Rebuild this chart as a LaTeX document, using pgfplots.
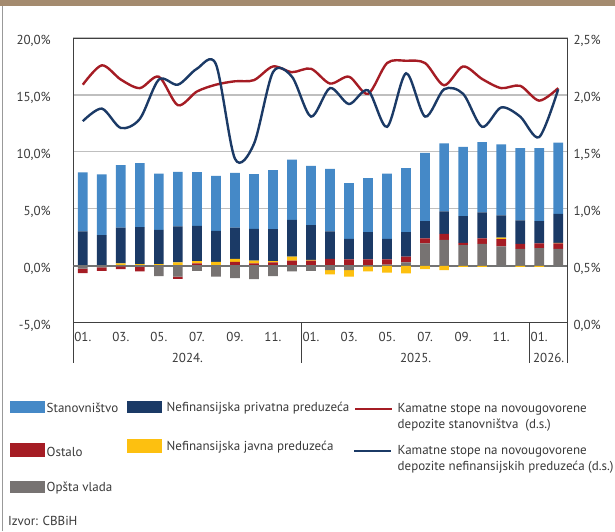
\documentclass[border=0pt]{standalone}
\usepackage{pgfplots}
\pgfplotsset{compat=1.18}
\usepackage{pgfplotstable}
\usepackage{fontspec}
\setmainfont{PT Sans}
\definecolor{cLB}{HTML}{4589C7}
\definecolor{cDB}{HTML}{1B3A66}
\definecolor{cRed}{HTML}{A51C24}
\definecolor{cYel}{HTML}{FDC010}
\definecolor{cGray}{HTML}{777372}
\definecolor{cTxt}{HTML}{3A3A3A}
\definecolor{cGrid}{HTML}{BFBFBF}
\definecolor{cBand}{HTML}{A48B6F}
\definecolor{cFrame}{HTML}{404040}

\pgfplotstableread{
x gray red yellow dblue lblue rs rn
0 -0.25 -0.40 0.00 3.01 5.18 2.09 1.77
1 -0.15 -0.30 0.05 2.64 5.33 2.26 1.88
2 -0.05 -0.25 0.20 3.14 5.49 2.135 1.71
3 -0.10 -0.40 0.15 3.24 5.62 2.06 1.79
4 -0.90 0.00 0.15 3.01 4.94 2.16 2.135
5 -0.95 -0.20 0.30 3.15 4.80 1.91 2.09
6 -0.45 0.20 0.20 3.11 4.71 2.03 2.23
7 -0.95 0.05 0.30 2.72 4.83 2.09 2.27
8 -1.08 0.35 0.25 2.74 4.82 2.12 1.44
9 -1.17 0.20 0.25 2.80 4.79 2.13 1.57
10 -0.90 0.30 0.10 2.82 5.17 2.25 2.20
11 -0.50 0.45 0.35 3.24 5.29 2.20 2.16
12 -0.45 0.45 0.06 3.06 5.20 2.23 1.81
13 -0.38 0.60 -0.38 2.41 5.50 2.10 2.06
14 -0.38 0.55 -0.58 1.82 4.88 2.16 1.92
15 -0.05 0.55 -0.45 2.41 4.73 2.01 2.04
16 0.10 0.45 -0.60 1.82 5.73 2.28 1.72
17 0.30 0.50 -0.67 2.16 5.61 2.30 2.19
18 1.96 0.44 -0.30 1.52 5.99 2.28 1.81
19 2.28 0.53 -0.38 1.96 5.97 2.085 2.05
20 1.81 0.20 -0.10 2.35 6.08 2.25 2.01
21 1.93 0.47 -0.10 2.28 6.17 2.14 1.72
22 1.70 0.64 0.12 1.96 6.23 2.06 1.89
23 1.49 0.44 -0.10 2.05 6.34 2.08 1.81
24 1.55 0.41 -0.10 1.96 6.40 1.95 1.63
25 1.49 0.47 0.06 2.54 6.26 2.06 2.05
}\data

\pgfplotsset{base/.style={scale only axis, width=494.4pt, height=284.7pt,
  at={(73.3pt,208.3pt)}, anchor=south west, xmin=-0.5, xmax=25.5,
  tick label style={font=\fontsize{13}{15}\selectfont, text=cTxt},
  major tick length=0pt}}

\begin{document}
\begin{tikzpicture}[x=1pt,y=1pt, font=\fontsize{13}{15}\selectfont]
\path[use as bounding box] (0pt,0pt) rectangle (615pt,531pt);
\fill[white] (0pt,0pt) rectangle (615pt,531pt);
\fill[cBand] (0pt,525pt) rectangle (615pt,531pt);
\draw[gray!80, line width=1.2pt] (2.5pt,0pt) -- (2.5pt,525pt);

% main axis: positive parts
\begin{axis}[base, ymin=-5, ymax=20,
  ytick={-5,0,5,10,15,20},
  yticklabels={{-5,0\%},{0,0\%},{5,0\%},{10,0\%},{15,0\%},{20,0\%}},
  ymajorgrids, grid style={cGrid, line width=1.2pt},
  axis line style={cFrame, line width=0.9pt},
  xtick={0,2,...,24},
  xticklabels={01.,03.,05.,07.,09.,11.,01.,03.,05.,07.,09.,11.,01.},
  yticklabel style={anchor=east, xshift=-19pt, yshift=-3pt},
  xticklabel style={anchor=center, yshift=-14pt},
  ybar stacked, bar width=9.7pt, clip=false]
\addplot[fill=cGray, draw=none] table[x=x, y expr={max(\thisrow{gray},0)}] {\data};
\addplot[fill=cRed, draw=none] table[x=x, y expr={max(\thisrow{red},0)}] {\data};
\addplot[fill=cYel, draw=none] table[x=x, y expr={max(\thisrow{yellow},0)}] {\data};
\addplot[fill=cDB, draw=none] table[x=x, y=dblue] {\data};
\addplot[fill=cLB, draw=none] table[x=x, y=lblue] {\data};
\foreach \s in {-0.5,11.5,23.5,25.5}{
  \edef\tmp{\noexpand\draw[cFrame, line width=0.9pt] (axis cs:\s,-5) -- ++(0pt,-40pt);}\tmp
}
\node[text=cTxt] at ([yshift=-35.3pt]axis cs:5.5,-5) {2024.};
\node[text=cTxt] at ([yshift=-35.3pt]axis cs:17.5,-5) {2025.};
\node[text=cTxt] at ([yshift=-35.3pt]axis cs:24.5,-5) {2026.};
\end{axis}

% negative parts
\begin{axis}[base, ymin=-5, ymax=20, hide axis, ybar stacked, bar width=9.7pt]
\addplot[fill=cGray, draw=none] table[x=x, y expr={min(\thisrow{gray},0)}] {\data};
\addplot[fill=cRed, draw=none] table[x=x, y expr={min(\thisrow{red},0)}] {\data};
\addplot[fill=cYel, draw=none] table[x=x, y expr={min(\thisrow{yellow},0)}] {\data};
\draw[gray!90!black, line width=1.5pt] (axis cs:-0.5,0) -- (axis cs:25.5,0);
\end{axis}

% right axis: interest rates
\begin{axis}[base, ymin=0, ymax=2.5, hide x axis, axis y line*=right,
  y axis line style={cFrame, line width=0.9pt},
  ytick={0,0.5,1,1.5,2,2.5},
  yticklabels={{0,0\%},{0,5\%},{1,0\%},{1,5\%},{2,0\%},{2,5\%}},
  yticklabel style={anchor=west, xshift=2.3pt, yshift=-3pt}]
\addplot[cRed, line width=2.4pt, smooth, no markers] table[x=x, y=rs] {\data};
\addplot[cDB, line width=2.4pt, smooth, no markers] table[x=x, y=rn] {\data};
\end{axis}

% legend
\begin{scope}[every node/.style={text=cTxt, inner sep=0pt, anchor=west}]
\fill[cLB] (10pt,117.7pt) rectangle (44.5pt,130.3pt);
\node at (46.5pt,123pt) {Stanovništvo};
\fill[cDB] (126.5pt,117.7pt) rectangle (162pt,130.3pt);
\node at (166.5pt,123pt) {Nefinansijska privatna preduzeća};
\draw[cRed, line width=2.4pt] (355pt,122pt) -- (392pt,122pt);
\node at (397.5pt,121.7pt) {Kamatne stope na novougovorene};
\node at (397.5pt,106pt) {depozite stanovništva\ \ (d.s.)};
\fill[cRed] (10pt,73.7pt) rectangle (44.5pt,88.3pt);
\node at (46.5pt,79.3pt) {Ostalo};
\fill[cYel] (126.5pt,78pt) rectangle (162pt,92pt);
\node at (166.5pt,84.3pt) {Nefinansijska javna preduzeća};
\draw[cDB, line width=2.4pt] (354pt,80.3pt) -- (391pt,80.3pt);
\node at (397.5pt,79.3pt) {Kamatne stope na novougovorene};
\node at (397.5pt,63.7pt) {depozite nefinansijskih preduzeća (d.s.)};
\fill[cGray] (10pt,38.3pt) rectangle (44.5pt,50pt);
\node at (46.5pt,42.7pt) {Opšta vlada};
\node at (8pt,10pt) {Izvor: CBBiH};
\end{scope}
\end{tikzpicture}
\end{document}
